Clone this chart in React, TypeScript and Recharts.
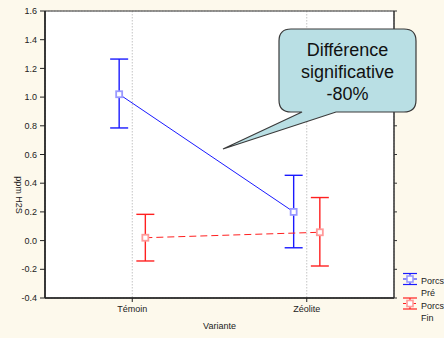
import React from 'react';
import {
  ComposedChart, Scatter, ErrorBar, XAxis, YAxis, CartesianGrid, ReferenceArea,
} from 'recharts';

const categories = ['Témoin', 'Zéolite'];
const yTicks = [-0.4, -0.2, 0.0, 0.2, 0.4, 0.6, 0.8, 1.0, 1.2, 1.4, 1.6];

const seriesNames = ['Porcs Pré', 'Porcs Fin'];
const preMean = [1.02, 0.2];
const preLower = [0.785, -0.05];
const preUpper = [1.265, 0.455];
const finMean = [0.02, 0.058];
const finLower = [-0.142, -0.177];
const finUpper = [0.183, 0.3];

const calloutLines = ['Différence', 'significative', '-80%'];

const OFFSET = 0.075;
const BLUE = '#1a1aff';
const RED = '#ff2020';

const build = (mean: number[], lo: number[], hi: number[], off: number) =>
  mean.map((m, i) => ({ x: i + off, y: m, err: [m - lo[i], hi[i] - m] }));

const preData = build(preMean, preLower, preUpper, -OFFSET);
const finData = build(finMean, finLower, finUpper, OFFSET);

const FONT = '"Liberation Sans", Arial, sans-serif';

const makeSquare = (stroke: string) => (props: any) => {
  const { cx, cy } = props;
  if (cx == null || cy == null) return <g />;
  return <rect x={cx - 3} y={cy - 3} width={6} height={6} fill="#ffffff" stroke={stroke} strokeWidth={1.8} />;
};

const Overlay = () => (
  <svg width={444} height={338} style={{ position: 'absolute', left: 0, top: 0, pointerEvents: 'none' }}>
    <g fontFamily={FONT}>
      <text transform="translate(16,195) rotate(90)" textAnchor="middle" fontSize={9} fill="#222">ppm H2S</text>
      <path
        d="M291,29 H404 Q416,29 416,41 V100 Q416,112 404,112 H336 L223,149 L302,112 H291 Q279,112 279,100 V41 Q279,29 291,29 Z"
        fill="#b9dfe4" stroke="#3a3a3a" strokeWidth={1.2}
      />
      {calloutLines.map((t, i) => (
        <text key={t} x={347.5} y={56 + i * 22} textAnchor="middle" fontSize={18} fill="#111">{t}</text>
      ))}
      {[{ c: BLUE, m: '#9a9aff', cy: 279, dash: undefined }, { c: RED, m: '#ff9a9a', cy: 303.5, dash: '3 2' }].map((l, i) => (
        <g key={i}>
          <line x1={403} x2={417} y1={l.cy - 5.5} y2={l.cy - 5.5} stroke={l.c} strokeWidth={1.2} />
          <line x1={403} x2={417} y1={l.cy + 5.5} y2={l.cy + 5.5} stroke={l.c} strokeWidth={1.2} />
          <line x1={403} x2={417} y1={l.cy} y2={l.cy} stroke={l.c} strokeWidth={1} strokeDasharray={l.dash} />
          <line x1={410} x2={410} y1={l.cy - 5.5} y2={l.cy + 5.5} stroke={l.c} strokeWidth={1.2} />
          <rect x={407} y={l.cy - 3} width={6} height={6} fill="#fff" stroke={l.m} strokeWidth={1.6} />
          <text x={421} y={l.cy + 5} fontSize={9} fill="#222">{seriesNames[i].split(' ')[0]}</text>
          <text x={421} y={l.cy + 17} fontSize={9} fill="#222">{seriesNames[i].split(' ')[1]}</text>
        </g>
      ))}
    </g>
  </svg>
);

export default function App() {
  return (
    <div style={{ position: 'absolute', left: 0, top: 0, width: 444, height: 338, background: '#fdf9ec', fontFamily: FONT, overflow: 'hidden' }}>
      <ComposedChart width={444} height={338} margin={{ top: 11, right: 49, bottom: 0, left: 0 }}>
        <CartesianGrid fill="#ffffff" stroke="#c4c4c4" strokeDasharray="1.5 1.5" />
        <XAxis
          type="number" dataKey="x" domain={[-0.5, 1.5]} ticks={[0, 1]} allowDataOverflow
          tickFormatter={(v: number) => categories[v] ?? ''}
          height={40} tickSize={4} tickMargin={4}
          tick={{ fontSize: 9, fill: '#222' }}
          axisLine={{ stroke: '#222', strokeWidth: 1.6 }} tickLine={{ stroke: '#222' }}
          label={{ value: 'Variante', position: 'insideBottom', offset: 9, fontSize: 9, fill: '#222' }}
        />
        <YAxis
          yAxisId="left" type="number" domain={[-0.4, 1.6]} ticks={yTicks} allowDataOverflow
          width={45} tickSize={5} tickMargin={3}
          tickFormatter={(v: number) => v.toFixed(1)}
          tick={{ fontSize: 9, fill: '#222' }}
          axisLine={{ stroke: '#222', strokeWidth: 1.6 }} tickLine={{ stroke: '#222' }}
        />
        <YAxis
          yAxisId="right" orientation="right" type="number" domain={[-0.4, 1.6]} ticks={yTicks} allowDataOverflow
          width={1} tickSize={3} tickMargin={0}
          tickFormatter={() => ''}
          axisLine={{ stroke: '#333', strokeWidth: 1 }} tickLine={{ stroke: '#333' }}
        />
        <ReferenceArea yAxisId="left" x1={-0.5} x2={1.5} y1={-0.4} y2={1.6} fill="none" stroke="#333" strokeWidth={1} ifOverflow="visible" />
        <Scatter
          yAxisId="left" data={preData} dataKey="y" isAnimationActive={false}
          line={{ stroke: BLUE, strokeWidth: 1 }} lineType="joint"
          shape={makeSquare('#9a9aff')}
        >
          <ErrorBar dataKey="err" direction="y" width={9} stroke={BLUE} strokeWidth={1.4} isAnimationActive={false} />
        </Scatter>
        <Scatter
          yAxisId="left" data={finData} dataKey="y" isAnimationActive={false}
          line={{ stroke: RED, strokeWidth: 1, strokeDasharray: '7 4' }} lineType="joint"
          shape={makeSquare('#ff9a9a')}
        >
          <ErrorBar dataKey="err" direction="y" width={9} stroke={RED} strokeWidth={1.4} isAnimationActive={false} />
        </Scatter>
      </ComposedChart>
      <Overlay />
    </div>
  );
}
